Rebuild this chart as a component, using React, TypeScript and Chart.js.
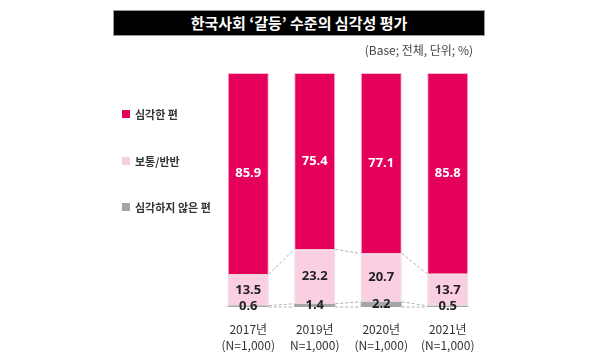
import React, { useEffect, useRef } from "react";
import { Chart, registerables } from "chart.js";

Chart.register(...registerables);

const categories: string[][] = [
  ["2017년", "(N=1,000)"],
  ["2019년", "N=1,000)"],
  ["2020년", "(N=1,000)"],
  ["2021년", "(N=1,000)"],
];
const seriesNames = ["심각한 편", "보통/반반", "심각하지 않은 편"];
const serious = [85.9, 75.4, 77.1, 85.8];
const neutral = [13.5, 23.2, 20.7, 13.7];
const notSerious = [0.6, 1.4, 2.2, 0.5];
const titleText = "한국사회 ‘갈등’ 수준의 심각성 평가";
const noteText = "(Base; 전체, 단위; %)";

const RED = "#E5005B";
const PINK = "#FBCFE2";
const GRAY = "#A6A6A6";

const KR = "'Noto Sans CJK KR', 'Noto Sans', sans-serif";

const connectorPlugin = {
  id: "connectors",
  afterDatasetsDraw(chart: any) {
    const ctx = chart.ctx;
    const gray = chart.getDatasetMeta(0).data;
    const pink = chart.getDatasetMeta(1).data;
    ctx.save();
    ctx.strokeStyle = "#B0B0B0";
    ctx.lineWidth = 1;
    ctx.setLineDash([3, 2]);
    const lines = [
      (i: number) => gray[i].base,
      (i: number) => gray[i].y,
      (i: number) => pink[i].y,
    ];
    for (let i = 0; i < gray.length - 1; i++) {
      const a = gray[i];
      const b = gray[i + 1];
      const w = a.width;
      for (const f of lines) {
        ctx.beginPath();
        ctx.moveTo(a.x + w / 2, f(i));
        ctx.lineTo(b.x - w / 2, f(i + 1));
        ctx.stroke();
      }
    }
    ctx.restore();
  },
};

const labelPlugin = {
  id: "valueLabels",
  afterDatasetsDraw(chart: any) {
    const ctx = chart.ctx;
    ctx.save();
    ctx.textAlign = "center";
    ctx.textBaseline = "middle";
    ctx.font = "bold 13px 'Open Sans', 'Noto Sans', sans-serif";
    chart.data.datasets.forEach((ds: any, di: number) => {
      const meta = chart.getDatasetMeta(di);
      meta.data.forEach((el: any, i: number) => {
        const v = ds.data[i];
        const cy = (el.y + el.base) / 2;
        ctx.fillStyle = di === 2 ? "#FFFFFF" : "#222222";
        ctx.fillText(v.toFixed(1), el.x, cy);
      });
    });
    ctx.restore();
  },
};

export default function App() {
  const ref = useRef<HTMLCanvasElement | null>(null);
  useEffect(() => {
    if (!ref.current) return;
    const chart = new Chart(ref.current, {
      type: "bar",
      data: {
        labels: categories,
        datasets: [
          {
            label: seriesNames[2],
            data: notSerious,
            backgroundColor: GRAY,
            borderWidth: 0,
          },
          {
            label: seriesNames[1],
            data: neutral,
            backgroundColor: PINK,
            borderColor: "#E2DADD",
            borderWidth: 1,
          },
          {
            label: seriesNames[0],
            data: serious,
            backgroundColor: RED,
            borderColor: "#F6B9D2",
            borderWidth: 1,
          },
        ],
      },
      options: {
        responsive: false,
        animation: false,
        layout: { padding: { left: 215, right: 119, top: 73, bottom: 0 } },
        plugins: { legend: { display: false }, tooltip: { enabled: false }, title: { display: false } },
        scales: {
          x: {
            stacked: true,
            grid: { display: false },
            border: { display: false },
            ticks: {
              color: "#333333",
              padding: 6,
              font: { family: KR, size: 12, lineHeight: 1.35 },
              maxRotation: 0,
              autoSkip: false,
            },
            afterFit: (axis: any) => {
              axis.height = 49;
            },
          },
          y: { stacked: true, display: false, min: 0, max: 100 },
        },
        datasets: { bar: { categoryPercentage: 1, barPercentage: 0.617 } },
      } as any,
      plugins: [connectorPlugin, labelPlugin],
    });
    return () => chart.destroy();
  }, []);

  const legendTops = [114, 161, 207];
  const legendColors = [RED, PINK, GRAY];

  return (
    <div style={{ position: "fixed", left: 0, top: 0, width: 600, height: 356, background: "#fff", overflow: "hidden" }}>
      <canvas ref={ref} width={600} height={356} style={{ position: "absolute", left: 0, top: 0 }} />
      <div
        style={{
          position: "absolute",
          left: 113,
          top: 10,
          width: 372,
          height: 26,
          background: "#000",
          boxSizing: "border-box",
          border: "1px solid #9a9a9a",
          color: "#fff",
          fontFamily: KR,
          fontWeight: 700,
          fontSize: 15,
          lineHeight: "24px",
          textAlign: "center",
        }}
      >
        {titleText}
      </div>
      <div
        style={{
          position: "absolute",
          right: 127,
          top: 42,
          fontFamily: KR,
          fontSize: 12,
          color: "#444",
          lineHeight: "16px",
          whiteSpace: "nowrap",
        }}
      >
        {noteText}
      </div>
      {seriesNames.map((n, i) => (
        <div
          key={n}
          style={{
            position: "absolute",
            left: 122,
            top: legendTops[i] - 8,
            height: 16,
            display: "flex",
            alignItems: "center",
            fontFamily: KR,
            fontSize: 11,
            fontWeight: 700,
            color: "#333",
            whiteSpace: "nowrap",
          }}
        >
          <span style={{ display: "inline-block", width: 8, height: 8, background: legendColors[i], marginRight: 5 }} />
          {n}
        </div>
      ))}
    </div>
  );
}
